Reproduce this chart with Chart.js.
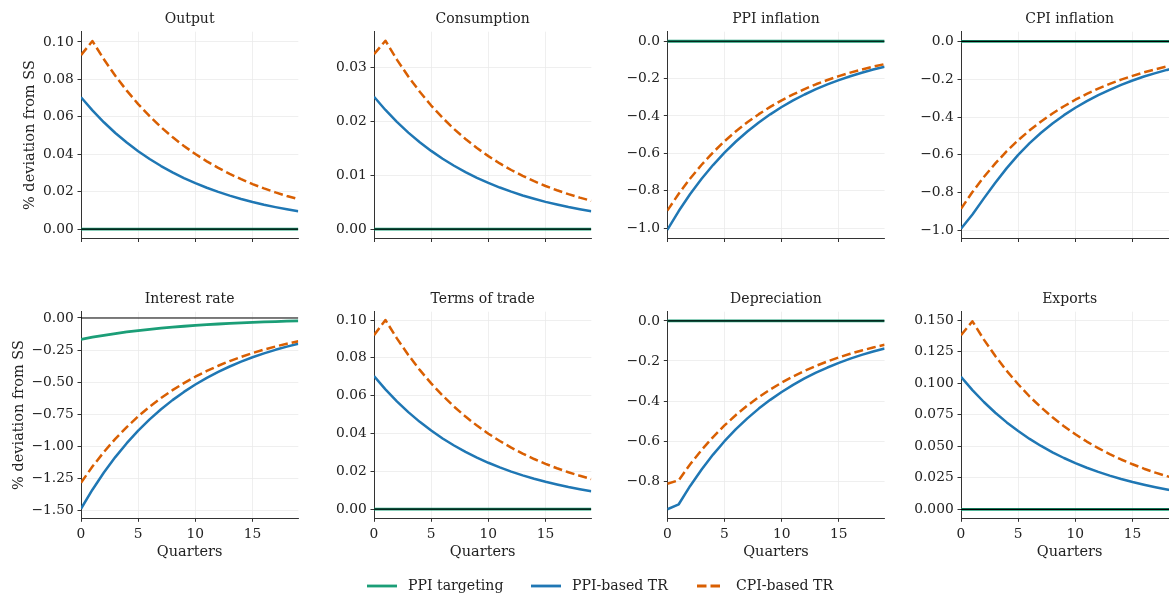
<!DOCTYPE html>
<html><head><meta charset="utf-8">
<script src="https://cdn.jsdelivr.net/npm/chart.js@4.4.1/dist/chart.umd.min.js"></script>
<style>
html,body{margin:0;padding:0;background:#fff;overflow:hidden;width:1169px;height:595px;position:relative;}
canvas{position:absolute;}
.lg{position:absolute;font-family:"DejaVu Serif";font-size:14.1px;color:#222;line-height:16px;white-space:nowrap;}
svg{position:absolute;}
</style></head><body>
<script>
// ---------- data ----------
const quarters = [0,1,2,3,4,5,6,7,8,9,10,11,12,13,14,15,16,17,18,19];
const xTickLabels = ["0","5","10","15"];

const zeros = [0,0,0,0,0,0,0,0,0,0,0,0,0,0,0,0,0,0,0,0];

const outputTgt = zeros;
const outputPPI = [0.07050,0.06345,0.05711,0.05139,0.04626,0.04163,0.03747,0.03372,0.03035,0.02731,0.02458,0.02212,0.01991,0.01792,0.01613,0.01452,0.01306,0.01176,0.01058,0.00952];
const outputCPI = [0.09300,0.10050,0.09075,0.08195,0.07400,0.06682,0.06034,0.05449,0.04920,0.04443,0.04012,0.03623,0.03271,0.02954,0.02668,0.02409,0.02175,0.01964,0.01774,0.01602];

const consTgt = zeros;
const consPPI = [0.02460,0.02214,0.01993,0.01793,0.01614,0.01453,0.01307,0.01177,0.01059,0.00953,0.00858,0.00772,0.00695,0.00625,0.00563,0.00506,0.00456,0.00410,0.00369,0.00332];
const consCPI = [0.03250,0.03500,0.03150,0.02835,0.02552,0.02296,0.02067,0.01860,0.01674,0.01507,0.01356,0.01220,0.01098,0.00989,0.00890,0.00801,0.00721,0.00649,0.00584,0.00525];

const ppiInfTgt = zeros;
const ppiInfPPI = [-1.0100,-0.9090,-0.8181,-0.7363,-0.6627,-0.5964,-0.5368,-0.4831,-0.4348,-0.3913,-0.3522,-0.3169,-0.2852,-0.2567,-0.2311,-0.2080,-0.1872,-0.1684,-0.1516,-0.1364];
const ppiInfCPI = [-0.9070,-0.8163,-0.7347,-0.6612,-0.5951,-0.5356,-0.4820,-0.4338,-0.3904,-0.3514,-0.3162,-0.2846,-0.2562,-0.2305,-0.2075,-0.1867,-0.1681,-0.1513,-0.1361,-0.1225];

const cpiInfTgt = zeros;
const cpiInfPPI = [-0.990,-0.915,-0.830,-0.747,-0.670,-0.600,-0.538,-0.483,-0.434,-0.390,-0.351,-0.316,-0.284,-0.256,-0.230,-0.207,-0.186,-0.168,-0.151,-0.136];
const cpiInfCPI = [-0.8850,-0.7965,-0.7169,-0.6452,-0.5806,-0.5226,-0.4703,-0.4233,-0.3810,-0.3429,-0.3086,-0.2777,-0.2499,-0.2249,-0.2024,-0.1822,-0.1640,-0.1476,-0.1328,-0.1195];

const rateTgt = [-0.1660,-0.1494,-0.1345,-0.1210,-0.1089,-0.0980,-0.0882,-0.0794,-0.0715,-0.0643,-0.0579,-0.0521,-0.0469,-0.0422,-0.0380,-0.0342,-0.0308,-0.0277,-0.0249,-0.0224];
const ratePPI = [-1.4850,-1.3365,-1.2029,-1.0826,-0.9743,-0.8769,-0.7892,-0.7103,-0.6392,-0.5753,-0.5178,-0.4660,-0.4194,-0.3775,-0.3397,-0.3057,-0.2752,-0.2477,-0.2229,-0.2006];
const rateCPI = [-1.2820,-1.1564,-1.0431,-0.9409,-0.8487,-0.7655,-0.6905,-0.6228,-0.5618,-0.5067,-0.4571,-0.4123,-0.3719,-0.3354,-0.3026,-0.2729,-0.2462,-0.2220,-0.2003,-0.1806];

const totTgt = zeros;
const totPPI = [0.07040,0.06336,0.05702,0.05132,0.04619,0.04157,0.03741,0.03367,0.03031,0.02728,0.02455,0.02209,0.01988,0.01790,0.01611,0.01450,0.01305,0.01174,0.01057,0.00951];
const totCPI = [0.09200,0.10000,0.09030,0.08154,0.07363,0.06649,0.06004,0.05422,0.04896,0.04421,0.03992,0.03605,0.03255,0.02939,0.02654,0.02397,0.02164,0.01954,0.01765,0.01594];

const depTgt = zeros;
const depPPI = [-0.9400,-0.9150,-0.8235,-0.7412,-0.6670,-0.6003,-0.5403,-0.4863,-0.4376,-0.3939,-0.3545,-0.3190,-0.2871,-0.2584,-0.2326,-0.2093,-0.1884,-0.1696,-0.1526,-0.1373];
const depCPI = [-0.8130,-0.7950,-0.7155,-0.6440,-0.5796,-0.5216,-0.4694,-0.4225,-0.3802,-0.3422,-0.3080,-0.2772,-0.2495,-0.2245,-0.2021,-0.1819,-0.1637,-0.1473,-0.1326,-0.1193];

const expTgt = zeros;
const expPPI = [0.10500,0.09450,0.08505,0.07655,0.06889,0.06200,0.05580,0.05022,0.04520,0.04068,0.03661,0.03295,0.02966,0.02669,0.02402,0.02162,0.01946,0.01751,0.01576,0.01418];
const expCPI = [0.1380,0.1490,0.1345,0.1215,0.1097,0.0991,0.0894,0.0808,0.0729,0.0659,0.0595,0.0537,0.0485,0.0438,0.0395,0.0357,0.0322,0.0291,0.0263,0.0237];

const yTicksOutput = ["0.00","0.02","0.04","0.06","0.08","0.10"];
const yTicksCons   = ["0.00","0.01","0.02","0.03"];
const yTicksPPIInf = ["\u22121.0","\u22120.8","\u22120.6","\u22120.4","\u22120.2","0.0"];
const yTicksCPIInf = ["\u22121.0","\u22120.8","\u22120.6","\u22120.4","\u22120.2","0.0"];
const yTicksRate   = ["\u22121.50","\u22121.25","\u22121.00","\u22120.75","\u22120.50","\u22120.25","0.00"];
const yTicksToT    = ["0.00","0.02","0.04","0.06","0.08","0.10"];
const yTicksDep    = ["\u22120.8","\u22120.6","\u22120.4","\u22120.2","0.0"];
const yTicksExp    = ["0.000","0.025","0.050","0.075","0.100","0.125","0.150"];

const titles = ["Output","Consumption","PPI inflation","CPI inflation","Interest rate","Terms of trade","Depreciation","Exports"];
const seriesNames = ["PPI targeting","PPI-based TR","CPI-based TR"];

// ---------- style ----------
const FONT = '"DejaVu Serif", serif';
const GREEN = '#1b9e77', BLUE = '#1f77b4', ORANGE = '#d95f02';
const GRID = '#ebebeb', SPINE = '#333333', TXT = '#222222';

const panels = [
  {title:titles[0], tgt:outputTgt, ppi:outputPPI, cpi:outputCPI, yt:yTicksOutput, ymin:-0.005, ymax:0.1055, col:0, row:0},
  {title:titles[1], tgt:consTgt, ppi:consPPI, cpi:consCPI, yt:yTicksCons, ymin:-0.00175, ymax:0.03668, col:1, row:0},
  {title:titles[2], tgt:ppiInfTgt, ppi:ppiInfPPI, cpi:ppiInfCPI, yt:yTicksPPIInf, ymin:-1.056, ymax:0.051, col:2, row:0},
  {title:titles[3], tgt:cpiInfTgt, ppi:cpiInfPPI, cpi:cpiInfCPI, yt:yTicksCPIInf, ymin:-1.042, ymax:0.051, col:3, row:0},
  {title:titles[4], tgt:rateTgt, ppi:ratePPI, cpi:rateCPI, yt:yTicksRate, ymin:-1.559, ymax:0.049, col:0, row:1},
  {title:titles[5], tgt:totTgt, ppi:totPPI, cpi:totCPI, yt:yTicksToT, ymin:-0.0048, ymax:0.1044, col:1, row:1},
  {title:titles[6], tgt:depTgt, ppi:depPPI, cpi:depCPI, yt:yTicksDep, ymin:-0.985, ymax:0.046, col:2, row:1},
  {title:titles[7], tgt:expTgt, ppi:expPPI, cpi:expCPI, yt:yTicksExp, ymin:-0.0071, ymax:0.1566, col:3, row:1}
];

const plotLefts = [81, 374, 667.3, 961];
const canvasLefts = [0, 300, 592, 886];
const PLOT_W = 217.3;
const CW = 310;

const panelTitle = {
  id:'panelTitle',
  afterDraw(chart, args, opts){
    const {ctx, chartArea:a} = chart;
    ctx.save();
    ctx.font = '14px ' + FONT;
    ctx.fillStyle = TXT;
    ctx.textAlign = 'center';
    ctx.textBaseline = 'alphabetic';
    ctx.fillText(opts.text, (a.left + a.right)/2, a.top - 8.3);
    ctx.restore();
  }
};

function build(p){
  const top = p.row === 0 ? 0 : 280;
  const ch = p.row === 0 ? 260 : 290;
  const cl = canvasLefts[p.col];
  const wy = plotLefts[p.col] - cl;
  const c = document.createElement('canvas');
  c.width = CW; c.height = ch;
  c.style.left = cl + 'px'; c.style.top = top + 'px';
  c.style.width = CW + 'px'; c.style.height = ch + 'px';
  document.body.appendChild(c);
  const yVals = p.yt.map(s => parseFloat(s.replace('\u2212','-')));
  const xVals = xTickLabels.map(Number);
  const pts = arr => quarters.map((q,i) => ({x:q, y:arr[i]}));
  const showX = p.row === 1;
  const showYTitle = p.col === 0;
  new Chart(c, {
    type:'line',
    data:{datasets:[
      {label:'zero', data:[{x:quarters[0],y:0},{x:quarters[quarters.length-1],y:0}], borderColor:'#000', borderWidth:1.2, order:0},
      {label:seriesNames[2], data:pts(p.cpi), borderColor:ORANGE, borderDash:[9,4], borderWidth:2.5, order:1},
      {label:seriesNames[1], data:pts(p.ppi), borderColor:BLUE, borderWidth:2.5, order:2},
      {label:seriesNames[0], data:pts(p.tgt), borderColor:GREEN, borderWidth:2.8, order:3}
    ]},
    options:{
      responsive:false, animation:false, devicePixelRatio:1,
      layout:{padding:{top:31.7, right: CW - wy - PLOT_W, bottom:0, left:0}},
      elements:{point:{radius:0}, line:{tension:0, borderCapStyle:'butt', borderJoinStyle:'round', fill:false}},
      plugins:{legend:{display:false}, tooltip:{enabled:false}, title:{display:false}, panelTitle:{text:p.title}},
      scales:{
        x:{
          type:'linear', min:0, max:19,
          afterFit(s){ s.height = showX ? 51.7 : 21.5; },
          afterBuildTicks(s){ s.ticks = xVals.map(v => ({value:v})); },
          grid:{color:GRID, lineWidth:0.8, tickColor:SPINE, tickLength:3.5, tickWidth:1},
          border:{color:SPINE, width:1},
          ticks:{display:showX, autoSkip:false, maxRotation:0, padding:4, color:TXT, font:{family:FONT, size:13.8}, callback:(v,i) => xTickLabels[i]},
          title:{display:showX, text:'Quarters', color:TXT, font:{family:FONT, size:14.5}, padding:{top:0, bottom:8.6}}
        },
        y:{
          type:'linear', min:p.ymin, max:p.ymax,
          afterFit(s){ s.width = wy; },
          afterBuildTicks(s){ s.ticks = yVals.map(v => ({value:v})); },
          grid:{color:GRID, lineWidth:0.8, tickColor:SPINE, tickLength:3.5, tickWidth:1},
          border:{color:SPINE, width:1},
          ticks:{autoSkip:false, padding:3.8, color:TXT, font:{family:FONT, size:13.8}, callback:(v,i) => p.yt[i]},
          title:{display:showYTitle, text:'% deviation from SS', color:TXT, font:{family:FONT, size:14.5}, padding:{top: p.row === 0 ? 21.3 : 10.1, bottom:0}}
        }
      }
    },
    plugins:[panelTitle]
  });
}
panels.forEach(build);

// ---------- legend ----------
const legendItems = [
  {name:seriesNames[0], color:GREEN, dash:null, x:367, len:30, tx:408},
  {name:seriesNames[1], color:BLUE, dash:null, x:531, len:30, tx:572},
  {name:seriesNames[2], color:ORANGE, dash:'9.5 4', x:697, len:23.5, tx:736}
];
legendItems.forEach(it => {
  const svg = document.createElementNS('http://www.w3.org/2000/svg','svg');
  svg.setAttribute('width','32'); svg.setAttribute('height','6');
  svg.style.left = it.x + 'px'; svg.style.top = '583px';
  const ln = document.createElementNS('http://www.w3.org/2000/svg','line');
  ln.setAttribute('x1','0'); ln.setAttribute('y1','3'); ln.setAttribute('x2', String(it.len)); ln.setAttribute('y2','3');
  ln.setAttribute('stroke', it.color); ln.setAttribute('stroke-width','2.8');
  if (it.dash) ln.setAttribute('stroke-dasharray', it.dash);
  svg.appendChild(ln);
  document.body.appendChild(svg);
  const t = document.createElement('div');
  t.className = 'lg'; t.textContent = it.name;
  t.style.left = it.tx + 'px'; t.style.top = '577px';
  document.body.appendChild(t);
});
</script>
</body></html>
